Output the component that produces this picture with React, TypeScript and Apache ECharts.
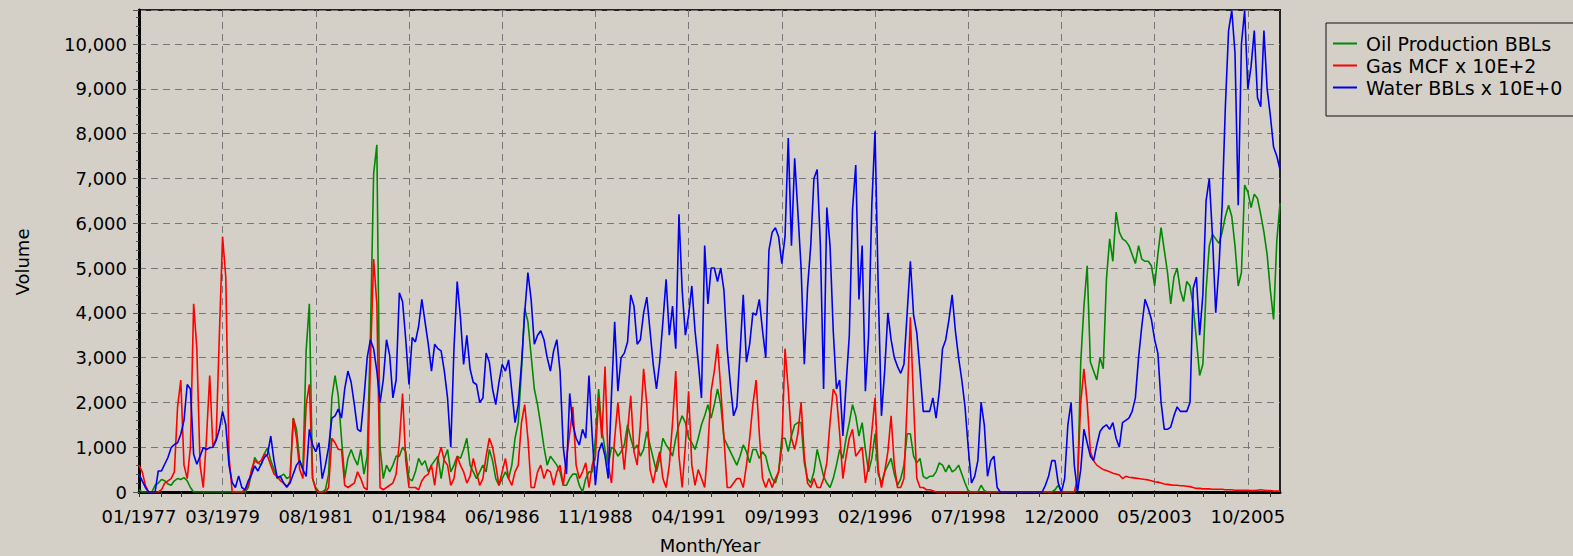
import React, { useEffect, useRef } from "react";
import * as echarts from "echarts";

const START_YEAR = 1977;
const MONTH_COUNT = 356;
const MONTHS: string[] = Array.from({ length: MONTH_COUNT }, (_, i) => {
  const m = (i % 12) + 1;
  const y = START_YEAR + Math.floor(i / 12);
  return `${String(m).padStart(2, "0")}/${y}`;
});

const TICK_LABELS = [
  "01/1977", "03/1979", "08/1981", "01/1984", "06/1986", "11/1988", "04/1991",
  "09/1993", "02/1996", "07/1998", "12/2000", "05/2003", "10/2005",
];

const SERIES_NAMES = ["Oil Production BBLs", "Gas MCF x 10E+2", "Water BBLs x 10E+0"];

const OIL = [
  50, 0, 0, 0, 0, 150, 200, 280, 250, 180,
  150, 250, 300, 280, 320, 250, 100, 0, 0, 0,
  0, 0, 0, 0, 0, 0, 0, 0, 0, 0,
  0, 0, 0, 0, 100, 400, 770, 650, 600, 850,
  990, 700, 500, 300, 350, 400, 300, 350, 1650, 1400,
  700, 500, 3150, 4200, 300, 100, 0, 0, 50, 400,
  2100, 2600, 2150, 1200, 300, 750, 950, 750, 600, 950,
  400, 800, 3500, 7100, 7750, 1000, 300, 600, 450, 600,
  800, 800, 1000, 900, 300, 250, 450, 750, 600, 700,
  450, 600, 700, 800, 300, 750, 950, 450, 600, 800,
  750, 950, 1200, 600, 450, 300, 450, 600, 450, 950,
  700, 300, 150, 300, 450, 300, 600, 1200, 1550, 2700,
  4100, 3800, 3050, 2300, 1950, 1500, 1000, 600, 800, 700,
  600, 450, 150, 150, 300, 400, 400, 150, 0, 300,
  450, 450, 1200, 2300, 1400, 950, 600, 1000, 950, 800,
  900, 1050, 1500, 1200, 950, 1050, 800, 950, 1350, 1050,
  750, 450, 750, 1200, 1050, 950, 800, 1200, 1500, 1700,
  1550, 1200, 1100, 950, 1200, 1500, 1700, 1950, 1650, 1950,
  2300, 1950, 1200, 1050, 900, 750, 600, 800, 1050, 900,
  650, 950, 950, 750, 900, 800, 500, 300, 200, 450,
  1200, 1200, 900, 1250, 1500, 1550, 1550, 650, 300, 200,
  450, 950, 650, 350, 200, 100, 300, 600, 950, 750,
  1200, 1550, 1950, 1700, 1250, 1550, 950, 450, 750, 1300,
  400, 200, 450, 600, 750, 400, 150, 300, 600, 1300,
  1300, 800, 650, 750, 350, 300, 350, 350, 450, 650,
  600, 450, 600, 450, 500, 600, 400, 200, 30, 0,
  0, 0, 150, 30, 0, 0, 0, 0, 0, 0,
  0, 0, 0, 0, 0, 0, 0, 0, 0, 0,
  0, 0, 0, 0, 0, 50, 150, 0, 0, 0,
  0, 0, 100, 2900, 4150, 5050, 2900, 2700, 2500, 3000,
  2750, 4750, 5650, 5150, 6250, 5800, 5650, 5600, 5500, 5300,
  5100, 5500, 5200, 5150, 5150, 5050, 4600, 5300, 5900, 5400,
  4900, 4200, 4800, 5000, 4500, 4250, 4700, 4600, 4150, 3400,
  2600, 2850, 4500, 5500, 5750, 5650, 5550, 5800, 6150, 6400,
  6150, 5500, 4600, 4900, 6850, 6700, 6350, 6650, 6550, 6200,
  5800, 5300, 4500, 3850, 5600, 6450,
];

const GAS = [
  600, 450, 150, 0, 0, 0, 0, 50, 200, 250,
  300, 450, 1900, 2500, 600, 300, 1000, 4200, 3200, 600,
  100, 1200, 2600, 1000, 1200, 3500, 5700, 4800, 800, 0,
  0, 0, 0, 50, 150, 500, 700, 650, 700, 850,
  800, 600, 400, 350, 250, 200, 100, 250, 1650, 1200,
  500, 300, 1950, 2400, 300, 50, 0, 0, 0, 100,
  1200, 1100, 950, 950, 150, 100, 150, 200, 450, 300,
  100, 50, 2900, 5200, 4200, 100, 50, 100, 150, 200,
  400, 1100, 2200, 700, 100, 100, 100, 50, 250, 350,
  400, 600, 150, 750, 1000, 700, 600, 150, 300, 800,
  600, 450, 200, 350, 750, 450, 150, 300, 800, 1200,
  1000, 600, 150, 450, 750, 300, 150, 450, 600, 1550,
  1950, 1200, 100, 100, 450, 600, 300, 500, 450, 150,
  450, 600, 150, 750, 1300, 1900, 600, 300, 450, 650,
  100, 600, 800, 2100, 1200, 2800, 600, 200, 1200, 2000,
  1200, 500, 1350, 2150, 900, 600, 1500, 2750, 1950, 500,
  200, 600, 900, 300, 100, 600, 1550, 2700, 800, 100,
  1050, 2250, 600, 150, 500, 300, 100, 1000, 2250, 2700,
  3300, 2300, 1200, 100, 100, 200, 300, 300, 100, 600,
  1200, 1950, 2500, 1300, 300, 100, 300, 100, 300, 450,
  1000, 3200, 2300, 1200, 950, 1300, 2000, 800, 200, 100,
  300, 100, 100, 300, 650, 1550, 2300, 2150, 1300, 300,
  800, 1200, 1400, 800, 900, 1000, 200, 600, 1350, 2100,
  500, 100, 450, 900, 1700, 600, 100, 100, 300, 2000,
  3900, 2000, 300, 100, 100, 50, 50, 30, 0, 0,
  0, 0, 0, 0, 0, 0, 0, 0, 0, 0,
  0, 0, 0, 0, 0, 0, 0, 0, 0, 0,
  0, 0, 0, 0, 0, 0, 0, 0, 0, 0,
  0, 0, 0, 0, 0, 0, 0, 0, 0, 0,
  0, 0, 300, 2000, 2750, 2000, 900, 700, 600, 550,
  500, 480, 450, 420, 400, 380, 300, 350, 330, 320,
  310, 300, 290, 280, 270, 250, 230, 220, 200, 180,
  170, 160, 150, 150, 140, 140, 130, 120, 100, 80,
  80, 70, 70, 70, 60, 60, 60, 60, 50, 50,
  50, 40, 40, 40, 40, 40, 30, 30, 40, 50,
  40, 30, 30, 20, 20, 20,
];

const WATER = [
  400, 250, 100, 0, 0, 0, 470, 470, 620, 770,
  990, 1060, 1100, 1290, 1600, 2400, 2300, 840, 620, 800,
  990, 950, 990, 1000, 1150, 1400, 1800, 1500, 600, 210,
  100, 360, 100, 50, 250, 390, 580, 470, 620, 770,
  840, 1250, 700, 320, 350, 200, 120, 200, 400, 600,
  700, 500, 350, 1400, 1050, 900, 1100, 300, 600, 1000,
  1650, 1700, 1850, 1650, 2300, 2700, 2450, 1950, 1400, 1350,
  2100, 3000, 3400, 3200, 2700, 2000, 2500, 3400, 3050, 2100,
  2500, 4450, 4250, 3400, 2400, 3450, 3350, 3700, 4300, 3800,
  3300, 2700, 3300, 3200, 3150, 2700, 2100, 1000, 3200, 4700,
  3900, 2850, 3500, 2750, 2450, 2400, 2000, 2100, 3100, 2900,
  2300, 1950, 2450, 2850, 2700, 2950, 2250, 1550, 1950, 2850,
  4000, 4900, 4300, 3300, 3500, 3600, 3400, 3000, 2700, 3150,
  3400, 2700, 1000, 400, 2200, 1500, 1200, 1050, 1400, 1200,
  2600, 1250, 150, 900, 1100, 800, 300, 2150, 3800, 2250,
  3000, 3100, 3350, 4400, 4150, 3300, 3400, 4000, 4350, 3600,
  2850, 2300, 2900, 3800, 4750, 3500, 4150, 3200, 6200, 4500,
  3500, 3950, 4600, 3600, 2900, 2100, 5500, 4200, 5000, 5000,
  4700, 5000, 4500, 3200, 2400, 1700, 1900, 3100, 4400, 2900,
  3300, 4000, 3950, 4300, 3600, 3000, 5400, 5800, 5900, 5700,
  5100, 5700, 7900, 5500, 7450, 6250, 5000, 2850, 4550, 5500,
  7000, 7200, 5500, 2300, 6350, 5500, 3600, 2300, 2500, 1250,
  2400, 3500, 6300, 7300, 4300, 5500, 2250, 3500, 6400, 8050,
  4550, 1700, 2700, 4000, 3400, 3000, 2800, 2650, 2850, 4000,
  5150, 3950, 3550, 2700, 1800, 1800, 1800, 2100, 1650, 2250,
  3200, 3400, 3850, 4400, 3600, 3000, 2500, 1900, 1000, 200,
  350, 700, 2000, 1500, 350, 700, 800, 100, 0, 0,
  0, 0, 0, 0, 0, 0, 0, 0, 0, 0,
  0, 0, 150, 350, 700, 700, 200, 0, 300, 1500,
  2000, 600, 0, 500, 1400, 1100, 800, 700, 1050, 1350,
  1450, 1500, 1400, 1550, 1200, 1000, 1550, 1600, 1650, 1800,
  2100, 3000, 3700, 4300, 4100, 3850, 3400, 3100, 2000, 1400,
  1400, 1450, 1700, 1900, 1800, 1800, 1800, 2000, 4550, 4800,
  3500, 4400, 6500, 7000, 5700, 4000, 5000, 6400, 8600, 10300,
  10750, 9800, 6400, 10000, 10750, 9000, 9500, 10300, 8800, 8600,
  10300, 9000, 8400, 7700, 7500, 7200,
];

const COLORS = ["#008a00", "#ff0000", "#0000ee"];
const BG = "#d4d0c8";
const FONT = "DejaVu Sans";

const labelIdx = TICK_LABELS.map((l) => MONTHS.indexOf(l));
const tickIdx = new Set<number>();
for (let k = 0; k < labelIdx.length; k++) {
  const a = labelIdx[k];
  const b = k + 1 < labelIdx.length ? labelIdx[k + 1] : a + (a - labelIdx[k - 1]);
  for (let j = 0; j < 4; j++) {
    const t = Math.round(a + ((b - a) * j) / 4);
    if (t < MONTH_COUNT) tickIdx.add(t);
  }
}
const labelSet = new Set(TICK_LABELS);

function fmt(v: number) {
  return String(v).replace(/\B(?=(\d{3})+(?!\d))/g, ",");
}

export default function App() {
  const ref = useRef<HTMLDivElement>(null);
  useEffect(() => {
    if (!ref.current) return;
    const chart = echarts.init(ref.current, undefined, { renderer: "svg" });
    const data = [OIL, GAS, WATER];
    chart.setOption({
      animation: false,
      backgroundColor: BG,
      textStyle: { fontFamily: FONT },
      grid: {
        left: 139,
        top: 10,
        width: 1141,
        height: 482,
        show: true,
        backgroundColor: BG,
        borderColor: "#222",
        borderWidth: 2,
      },
      legend: {
        orient: "vertical",
        left: 1326,
        top: 23,
        padding: [11, 14, 19, 7],
        itemGap: 3,
        itemWidth: 24,
        itemHeight: 2,
        icon: "rect",
        borderColor: "#111",
        borderWidth: 1,
        backgroundColor: BG,
        textStyle: { fontFamily: FONT, fontSize: 19, color: "#000", lineHeight: 19, padding: [0, 0, 0, 4] },
        data: SERIES_NAMES,
      },
      xAxis: {
        type: "category",
        data: MONTHS,
        boundaryGap: false,
        axisLine: { lineStyle: { color: "#000", width: 3 } },
        axisTick: {
          show: true,
          length: 5,
          interval: (i: number) => tickIdx.has(i),
          lineStyle: { color: "#333", width: 1 },
        },
        axisLabel: {
          interval: (_i: number, v: string) => labelSet.has(v),
          fontFamily: FONT,
          fontSize: 18,
          color: "#000",
          margin: 15,
          hideOverlap: false,
        },
        splitLine: {
          show: true,
          interval: (_i: number, v: string) => labelSet.has(v),
          lineStyle: { color: "#777", width: 1, type: [7, 5] },
        },
      },
      yAxis: {
        type: "value",
        min: 0,
        max: 10760,
        interval: 1000,
        axisLine: { show: true, lineStyle: { color: "#000", width: 3 } },
        axisTick: { show: true, length: 6, lineStyle: { color: "#555" } },
        minorTick: { show: true, splitNumber: 5, length: 3, lineStyle: { color: "#555" } },
        axisLabel: {
          fontFamily: FONT,
          fontSize: 18,
          color: "#000",
          margin: 12,
          formatter: (v: number) => (v % 1000 === 0 ? fmt(v) : ""),
        },
        splitLine: { show: true, lineStyle: { color: "#777", width: 1, type: [7, 5] } },
      },
      graphic: [
        {
          type: "text",
          x: 22,
          y: 262,
          rotation: Math.PI / 2,
          style: {
            text: "Volume",
            fill: "#000",
            fontSize: 18,
            fontFamily: FONT,
            align: "center",
            verticalAlign: "middle",
          },
        },
        {
          type: "text",
          x: 710,
          y: 545,
          style: {
            text: "Month/Year",
            fill: "#000",
            fontSize: 18,
            fontFamily: FONT,
            align: "center",
            verticalAlign: "middle",
          },
        },
      ],
      series: SERIES_NAMES.map((name, k) => ({
        name,
        type: "line",
        data: data[k],
        showSymbol: false,
        symbol: "none",
        lineStyle: { color: COLORS[k], width: 1.6 },
        itemStyle: { color: COLORS[k] },
      })),
    });
    return () => chart.dispose();
  }, []);
  return (
    <div
      ref={ref}
      style={{ position: "absolute", left: 0, top: 0, width: 1573, height: 556 }}
    />
  );
}
